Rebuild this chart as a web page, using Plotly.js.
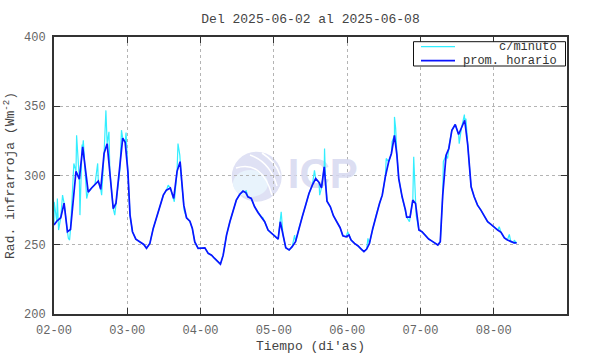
<!DOCTYPE html>
<html>
<head>
<meta charset="utf-8">
<script src="https://cdn.plot.ly/plotly-3.0.1.min.js"></script>
<style>html,body{margin:0;padding:0;background:#fff;}</style>
</head>
<body>
<div id="chart" style="width:590px;height:354px;"></div>
<script>
// Hours since 2025-06-02 00:00 and hourly means (W m^-2)
const hourT = [0, 0.9, 2.2, 3.3, 4.4, 5.4, 7.2, 8.3, 9.4, 11.2, 12.3, 13.4, 14.5, 15.3, 16.4, 17.4, 18.3, 19.4, 20.3, 21.6,
  22.5, 23.3, 24.2, 24.9, 25.7, 26.8, 28.1, 29.4, 30.3, 31.4, 32.5, 34.1, 35.8, 36.8, 38.1, 39.2, 40.3, 41.3, 41.8, 42.5,
  43.4, 44.5, 45.3, 46.1, 47.2, 48.3, 49.4, 50.5, 51.6, 52.6, 53.7, 54.5, 55.4, 56.5, 57.6, 58.6, 59.7, 60.8, 61.9, 62.8,
  63.5, 64.6, 65.7, 66.8, 67.9, 69, 70.1, 71.2, 72.3, 73.4, 74.1, 75, 75.9, 77, 78, 79.1, 80.2, 81.3, 82.4, 83.5,
  84.6, 85.7, 86.8, 87.6, 88.5, 89.4, 90.5, 91.5, 92.6, 93.7, 94.6, 95.7, 96.6, 97.3, 98.4, 99.5, 100.6, 101.5, 102.4, 103.3,
  104.4, 105.5, 106.6, 107.5, 108.5, 109.6, 110.5, 111.5, 112.3, 112.9, 114, 115.1, 115.5, 116.6, 117.5, 118.4, 119.5, 120.5, 121.6, 122.7,
  123.8, 124.9, 125.7, 126.5, 127.3, 128.4, 129.3, 130.3, 131.4, 132.5, 133.4, 134.5, 135.5, 136.6, 137.6, 138.7, 139.8, 140.9, 142, 143.1,
  144.2, 145.3, 146.4, 147.5, 148.5, 149.6, 150.7, 151.5];
const hourV = [264.2, 267, 269.5, 280, 259.4, 261, 303, 297.4, 320.7, 288, 291, 293.5, 296, 290, 316, 323, 302.6, 276, 280, 305,
  327, 324, 302.6, 271.4, 259.4, 254, 252, 250.2, 247.4, 251, 261.8, 273.8, 285.8, 289.4, 291, 283.4, 303, 310, 295, 278.6,
  269.5, 267, 261.8, 252, 247.4, 247.4, 247.8, 243.8, 242.5, 240.1, 237.7, 236, 242.5, 257, 266.6, 275, 282.2, 286.3, 288.7, 287.7,
  284.6, 283.4, 277.4, 273.3, 270.2, 266.6, 260.6, 258.2, 256.5, 254.1, 266.6, 257, 247.8, 246.2, 248.6, 252.2, 261.8, 270.2, 278.6, 287,
  293, 297.8, 295, 291, 306.3, 281.5, 277.4, 271, 266.6, 262.3, 256.5, 255.8, 257, 253.4, 251, 249.3, 246.9, 245, 246.9, 251,
  261.8, 271.4, 279.8, 285.8, 299, 309.9, 315.9, 329, 314.7, 297.8, 284.6, 275, 270, 270, 282.2, 279.8, 260.6, 259.4, 257, 254.1,
  252.6, 250.7, 249.8, 252.2, 285.8, 314.7, 319.5, 332.7, 336.8, 329.6, 333.9, 339.9, 321.9, 291.8, 284.6, 278.6, 275, 270.2, 266.6, 264.7,
  262.3, 260.6, 258.9, 255, 253.4, 252.2, 251.4, 251.4];

// Minute-data excursions visible around the hourly curve
const spikeT = [0.05, 1.1, 1.5, 2.8, 4.7, 5.1, 6.5, 7.4, 7.8, 8.5, 9.2, 9.6, 10.7, 14.3, 15.6, 17.0, 17.7, 18.0, 19.9, 22.1,
  23.6, 24.4, 37.4, 39.4, 40.6, 41.2, 42.6, 62.9, 68.4, 74.4, 78.8, 85.0, 85.3, 87.0, 88.6, 88.9, 96.2, 102.8, 108.8, 110.7,
  111.5, 111.9, 116.4, 117.8, 118.3, 118.6, 127.5, 128.9, 129.5, 132.7, 134.4, 134.9, 145.8, 149.1, 150.7];
const spikeV = [281, 283.4, 260.6, 285.8, 254.6, 253.4, 308.7, 329, 316, 271.4, 322.4, 325.5, 283.4, 308.7, 285.8, 347, 327.9, 331.5, 271.4, 332.7,
  331, 295.4, 293, 281, 323, 314.7, 275, 289.4, 269.5, 273.8, 257, 301.4, 303.8, 285.8, 319.5, 297.8, 259.4, 254.6, 312.3, 324.3,
  342.3, 333.9, 266.6, 313.5, 285.8, 271.4, 310, 312.3, 323, 323, 344, 341, 263, 257.5, 253.4];

const tickHours = [0, 24, 48, 72, 96, 120, 144];
const tickLabels = ['02-00', '03-00', '04-00', '05-00', '06-00', '07-00', '08-00'];
const seriesNames = ['c/minuto', 'prom. horario'];
const seriesColors = ['#33eeff', '#0a14ff'];

const xRange = [0, 168], yRange = [200, 400];

// minute series: hourly curve plus the visible excursions, in time order
const merged = hourT.map((t, i) => [t, hourV[i]])
  .concat(spikeT.map((t, i) => [t, spikeV[i]]))
  .sort((a, b) => a[0] - b[0]);
const minT = merged.map(p => p[0]);
const minV = merged.map(p => p[1]);

const mono = 'Liberation Mono, DejaVu Sans Mono, monospace';

const traces = [
  { // watermark text
    x: [xRange[0] + 0.524 * (xRange[1] - xRange[0])],
    y: [yRange[0] + 0.492 * (yRange[1] - yRange[0])],
    mode: 'text', text: ['ICP'],
    textfont: {family: 'Liberation Sans, Arial, sans-serif', size: 42, weight: 700, color: 'rgba(214,216,240,0.85)'},
    textposition: 'middle center', showlegend: false, hoverinfo: 'skip'
  },
  {
    x: minT, y: minV, mode: 'lines', name: seriesNames[0],
    line: {color: seriesColors[0], width: 1.2}
  },
  {
    x: hourT, y: hourV, mode: 'lines', name: seriesNames[1],
    line: {color: seriesColors[1], width: 1.7}
  }
];

// pixel -> paper helper for decorations (plot area 54..567 x 37..314)
function px2paper(px, py) { return [(px - 54) / 513, (314 - py) / 277]; }
const c0 = px2paper(231.7, 201.7), c1 = px2paper(281.7, 151.7);
const e0 = px2paper(233, 197), e1 = px2paper(268, 170);
function qpath(pts) {
  const p = pts.map(q => px2paper(q[0], q[1]));
  return 'M' + p[0][0] + ',' + p[0][1] + ' Q' + p[1][0] + ',' + p[1][1] + ' ' + p[2][0] + ',' + p[2][1];
}

// legend box, drawn as in the reference (line sample left, label right-aligned)
const lgBox0 = px2paper(413.5, 66), lgBox1 = px2paper(565.5, 41.7);
const lgRows = [46.7, 60.7];
const lgShapes = [{type: 'rect', xref: 'paper', yref: 'paper', x0: lgBox0[0], y0: lgBox0[1], x1: lgBox1[0], y1: lgBox1[1],
  fillcolor: '#ffffff', line: {color: '#111', width: 1}, layer: 'above'}];
const lgAnn = [];
lgRows.forEach((ry, i) => {
  const a = px2paper(421, ry), b = px2paper(455, ry), t = px2paper(559, ry);
  lgShapes.push({type: 'line', xref: 'paper', yref: 'paper', x0: a[0], y0: a[1], x1: b[0], y1: b[1],
    line: {color: seriesColors[i], width: i === 0 ? 1.2 : 1.7}, layer: 'above'});
  lgAnn.push({xref: 'paper', yref: 'paper', x: t[0], y: t[1], xanchor: 'right', yanchor: 'middle',
    text: seriesNames[i], showarrow: false, font: {family: mono, size: 12, color: '#333'}});
});

const layout = {
  width: 590, height: 354,
  margin: {l: 54, r: 23, t: 37, b: 40, pad: 0},
  paper_bgcolor: '#ffffff', plot_bgcolor: '#ffffff',
  font: {family: mono, size: 12, color: '#555'},
  title: {text: 'Del 2025-06-02 al 2025-06-08', x: 0.5, xref: 'paper', xanchor: 'center',
          y: 1 - 18 / 354, yref: 'container', yanchor: 'middle', font: {family: mono, size: 13, color: '#444'}},
  showlegend: false,
  xaxis: {
    range: xRange, tickvals: tickHours, ticktext: tickLabels,
    ticks: 'inside', ticklen: 6, tickwidth: 1.2, tickcolor: '#333', mirror: 'ticks',
    showline: true, linecolor: '#333', linewidth: 2,
    showgrid: true, gridcolor: '#b4b4b4', griddash: 'dot', gridwidth: 1, zeroline: false,
    ticklabelstandoff: 4, tickfont: {family: mono, size: 12, color: '#666'},
    title: {text: "Tiempo (di'as)", standoff: 6, font: {family: mono, size: 13, color: '#444'}}
  },
  yaxis: {
    range: yRange, dtick: 50, tick0: 200,
    ticks: 'inside', ticklen: 6, tickwidth: 1.2, tickcolor: '#333', mirror: 'ticks',
    showline: true, linecolor: '#333', linewidth: 2,
    showgrid: true, gridcolor: '#b4b4b4', griddash: 'dot', gridwidth: 1, zeroline: false,
    ticklabelstandoff: 4, tickfont: {family: mono, size: 12, color: '#666'},
    title: {text: 'Rad. infrarroja (Wm<sup>-2</sup>)', standoff: 6, font: {family: mono, size: 13, color: '#444'}}
  },
  annotations: lgAnn,
  shapes: [
    {type: 'circle', xref: 'paper', yref: 'paper', x0: c0[0], y0: c0[1], x1: c1[0], y1: c1[1],
     fillcolor: '#dfe1f4', line: {width: 0}, layer: 'below'},
    {type: 'circle', xref: 'paper', yref: 'paper', x0: e0[0], y0: e0[1], x1: e1[0], y1: e1[1],
     fillcolor: '#e8f3fc', line: {width: 0}, layer: 'below'},
    {type: 'path', xref: 'paper', yref: 'paper', path: qpath([[236, 168], [262, 160], [272, 195]]),
     line: {color: '#ffffff', width: 1.5}, layer: 'below'},
    {type: 'path', xref: 'paper', yref: 'paper', path: qpath([[250, 155], [270, 162], [277, 186]]),
     line: {color: '#ffffff', width: 1.5}, layer: 'below'},
    {type: 'path', xref: 'paper', yref: 'paper', path: qpath([[262, 153], [276, 162], [280, 175]]),
     line: {color: '#ffffff', width: 1.5}, layer: 'below'}
  ].concat(lgShapes)
};

Plotly.newPlot('chart', traces, layout, {displayModeBar: false, staticPlot: true});
</script>
</body>
</html>
